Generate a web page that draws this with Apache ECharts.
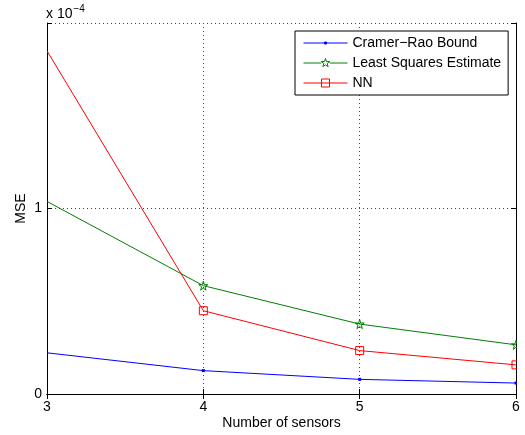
<!DOCTYPE html>
<html><head><meta charset="utf-8">
<script src="https://cdn.jsdelivr.net/npm/echarts@6/dist/echarts.min.js"></script>
<style>html,body{margin:0;padding:0;background:#fff}#c{width:525px;height:435px}</style>
</head><body><div id="c"></div>
<script>
// values in units of 1e-4
const sensors = [3, 4, 5, 6];
const crb = [0.222, 0.126, 0.079, 0.059];
const lse = [1.038, 0.584, 0.377, 0.265];
const nn  = [1.850, 0.449, 0.234, 0.157];
const seriesNames = ['Cramer\u2212Rao Bound', 'Least Squares Estimate', 'NN'];
const yTicks = [0, 1, 2];

const FONT = 'Liberation Sans, Arial, Helvetica, sans-serif';
const star = 'path://M50,0 L61,35 L98,35 L68,57 L79,91 L50,70 L21,91 L32,57 L2,35 L39,35 Z';
const pts = arr => sensors.map((x, i) => i === 0 ? {value: [x, arr[i]], symbol: 'none'} : [x, arr[i]]);

const bb = 'M0,0 M44,12 ';
const iconDot = 'path://' + bb + 'M0,6 L44,6 M21,5 L23,5 L23,7 L21,7 Z';
const iconStar = 'path://' + bb + 'M0,6 L17.72,6 M26.28,6 L44,6 M22,1.5 L23.06,4.54 L26.28,4.61 L23.71,6.56 L24.65,9.64 L22,7.8 L19.35,9.64 L20.29,6.56 L17.72,4.61 L20.94,4.54 Z';
const iconSq = 'path://' + bb + 'M0,6 L44,6 M18,2 L26,2 L26,10 L18,10 Z';

const chart = echarts.init(document.getElementById('c'), null, {renderer: 'canvas'});
const axisCommon = {
  axisLine: {show: true, lineStyle: {color: '#000', width: 1}},
  axisTick: {show: true, inside: true, length: 5, lineStyle: {color: '#000'}},
};
const grid = {show: true, lineStyle: {color: '#444', type: [1, 3], width: 1}};
chart.setOption({
  animation: false,
  backgroundColor: '#fff',
  grid: {left: 47, right: 9, top: 23, bottom: 41},
  xAxis: [
    Object.assign({type: 'value', min: 3, max: 6, interval: 1, position: 'bottom',
      name: 'Number of sensors', nameLocation: 'middle', nameGap: 22, nameMoveOverlap: false,
      nameTextStyle: {fontFamily: FONT, fontSize: 14, color: '#000'},
      axisLabel: {fontFamily: FONT, fontSize: 14, color: '#000', margin: 6},
      splitLine: grid}, axisCommon),
    Object.assign({type: 'value', min: 3, max: 6, interval: 1, position: 'top',
      axisLabel: {show: false}, splitLine: {show: false}}, axisCommon)
  ],
  yAxis: [
    Object.assign({type: 'value', min: 0, max: 2, interval: 1, position: 'left',
      name: 'MSE', nameLocation: 'middle', nameGap: 19, nameRotate: 90, nameMoveOverlap: false,
      nameTextStyle: {fontFamily: FONT, fontSize: 14, color: '#000'},
      axisLabel: {fontFamily: FONT, fontSize: 14, color: '#000', margin: 5,
        formatter: v => (v === yTicks[yTicks.length - 1] ? '' : String(v))},
      splitLine: grid}, axisCommon),
    Object.assign({type: 'value', min: 0, max: 2, interval: 1, position: 'right',
      axisLabel: {show: false}, splitLine: {show: false}}, axisCommon)
  ],
  legend: {
    orient: 'vertical', left: 295, top: 31,
    padding: [5, 7, 5, 8], itemGap: 6, itemWidth: 44, itemHeight: 12,
    backgroundColor: '#fff', borderColor: '#000', borderWidth: 1, borderRadius: 0,
    textStyle: {fontFamily: FONT, fontSize: 14, color: '#000', lineHeight: 12},
    data: [
      {name: seriesNames[0], icon: iconDot, itemStyle: {color: '#0000ff', borderColor: '#0000ff', borderWidth: 1}},
      {name: seriesNames[1], icon: iconStar, itemStyle: {color: 'rgba(0,0,0,0)', borderColor: '#008000', borderWidth: 1}},
      {name: seriesNames[2], icon: iconSq, itemStyle: {color: 'rgba(0,0,0,0)', borderColor: '#ff0000', borderWidth: 1}}
    ]
  },
  graphic: [{
    type: 'text', left: 46, top: 4,
    style: {
      text: 'x 10{s|\u22124}', fontFamily: FONT, fontSize: 14, fill: '#000',
      rich: {s: {fontFamily: FONT, fontSize: 10, fill: '#000', verticalAlign: 'top', padding: [0, 0, 10, 1]}}
    }
  }, {
    type: 'rect', left: 517, top: 15, z: 100, silent: true,
    shape: {width: 8, height: 384}, style: {fill: '#fff'}
  }],
  series: [
    {name: seriesNames[0], type: 'line', data: pts(crb), symbol: 'rect', symbolSize: 3,
      lineStyle: {color: '#0000ff', width: 1}, itemStyle: {color: '#0000ff'}},
    {name: seriesNames[1], type: 'line', data: pts(lse), symbol: star, symbolSize: 9,
      lineStyle: {color: '#008000', width: 1},
      itemStyle: {color: 'rgba(0,0,0,0)', borderColor: '#008000', borderWidth: 1}},
    {name: seriesNames[2], type: 'line', data: pts(nn), symbol: 'rect', symbolSize: 8,
      lineStyle: {color: '#ff0000', width: 1},
      itemStyle: {color: 'rgba(0,0,0,0)', borderColor: '#ff0000', borderWidth: 1}}
  ]
});
</script></body></html>
